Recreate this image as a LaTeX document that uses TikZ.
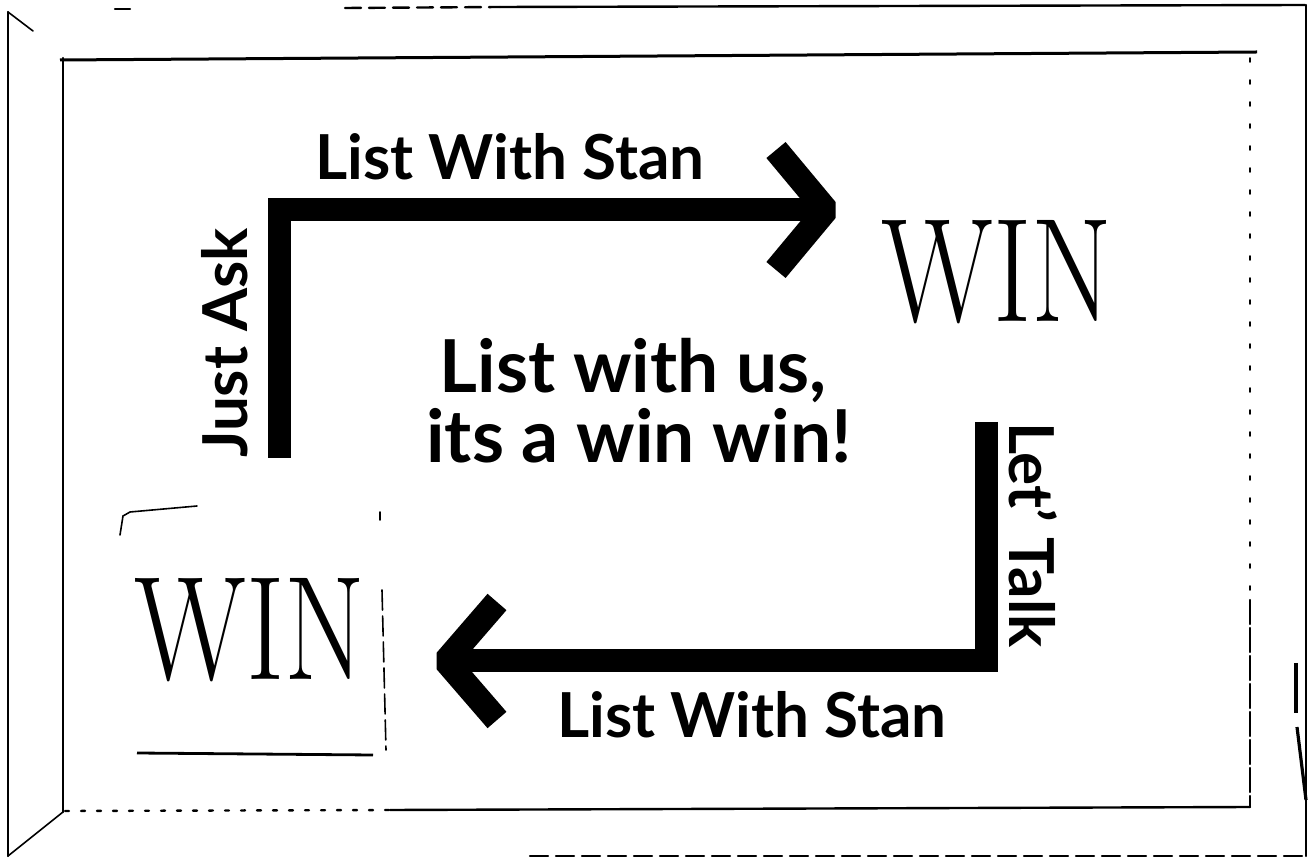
\documentclass[tikz,border=0pt]{standalone}
\usepackage{fontspec}
\setmainfont{Lato}
\newfontfamily\winfont{Latin Modern Roman}
\begin{document}
\begin{tikzpicture}[x=0.5pt,y=-0.5pt,
  frame/.style={line width=1.2pt, black, line cap=round},
  thinframe/.style={line width=0.8pt, black, line cap=round},
  bar/.style={line width=11.5pt, black, line join=miter},
  chev/.style={line width=12.5pt, black, line join=bevel},
  lbl/.style={font=\fontsize{31}{34}\selectfont\bfseries, inner sep=0pt},
  slogan/.style={font=\fontsize{36.5}{40}\selectfont\bfseries, inner sep=0pt, anchor=base},
  win/.style={font=\winfont\fontsize{74}{80}\selectfont, inner sep=0pt}]
\useasboundingbox (0,0) rectangle (1312,860);
\fill[white] (0,0) rectangle (1312,860);

% outer frame
\draw[frame] (8,12) -- (8,856);
\draw[thinframe] (8,12) -- (33,31);
\draw[thinframe] (8,856) -- (63,812);
\draw[frame] (115,9) -- (130,9);
\draw[frame, dash pattern=on 8pt off 4pt] (345,8) -- (500,7);
\draw[frame] (500,7) -- (1305,5);
\draw[frame] (1306,5) -- (1306,856);
\draw[frame, dash pattern=on 9pt off 4pt] (530,856) -- (1306,856);
\draw[line width=1.6pt] (1296,663) -- (1296,713);
\draw[line width=1.6pt] (1297,727) -- (1306,800);

% inner frame
\draw[line width=1.5pt] (60,60) -- (1257,52);
\draw[frame] (63,58) -- (63,812);
\draw[frame, dash pattern=on 2pt off 6pt] (65,811) -- (390,810);
\draw[frame] (390,810) -- (1250,807);
\draw[thinframe, dash pattern=on 2pt off 9pt] (1250,58) -- (1250,600);
\draw[frame, dash pattern=on 12pt off 2pt] (1250,600) -- (1250,807);

% small box around lower WIN
\draw[thinframe] (120,535) -- (123,516) -- (130,512) -- (197,506);
\draw[thinframe] (380,512) -- (380,520);
\draw[thinframe, dash pattern=on 10pt off 3pt] (382,590) -- (386,750);
\draw[line width=1.4pt] (137,753) -- (373,755);

% upper arrow
\coordinate (uastart) at (279,458);
\coordinate (uacorner) at (279,210);
\coordinate (uaend) at (826,210);
\draw[bar] (uastart) -- (uacorner) -- (uaend);
\coordinate (uatop) at (776,150);
\coordinate (uabot) at (776,270);
\draw[chev] (uatop) -- (uaend) -- (uabot);

% lower arrow
\coordinate (lastart) at (986,422);
\coordinate (lacorner) at (986,661);
\coordinate (laend) at (446,661);
\draw[bar] (lastart) -- (lacorner) -- (laend);
\coordinate (latop) at (497,602);
\coordinate (labot) at (497,720);
\draw[chev] (latop) -- (laend) -- (labot);

% labels
\node[lbl] (toplabel) at (510,157) {List With Stan};
\node[lbl] (botlabel) at (752,715) {List With Stan};
\node[lbl, rotate=90] (justask) at (225,343) {Just Ask};
\node[lbl, rotate=-90] (letstalk) at (1033,535) {Let’ Talk};
\node[slogan] (sloganA) at (633,393) {List with us,};
\node[slogan] (sloganB) at (639,463) {its a win win!};
\node[win] (wintop) at (997,272) {\scalebox{0.79}[1]{WIN}};
\node[win] (winbot) at (250,630) {\scalebox{0.79}[1]{WIN}};
\end{tikzpicture}
\end{document}
